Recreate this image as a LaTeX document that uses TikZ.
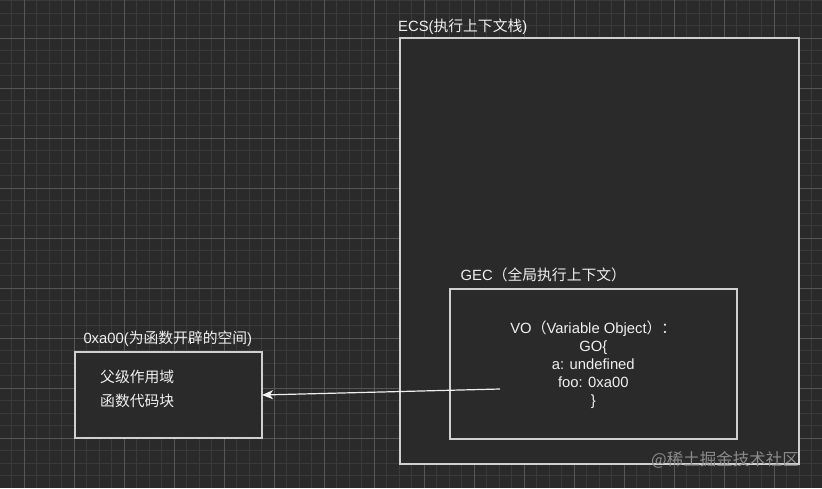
\documentclass[tikz,border=0pt]{standalone}
\usepackage{fontspec}
\setmainfont{Liberation Sans}
\newfontfamily\cjk{Noto Sans CJK SC}
\usetikzlibrary{arrows.meta}
\definecolor{bg}{HTML}{2A2A2A}
\definecolor{gminor}{HTML}{3A3A3A}
\definecolor{gmajor}{HTML}{565656}
\definecolor{fg}{HTML}{F0F0F0}
\definecolor{edgec}{HTML}{D0D0D0}
\definecolor{wmc}{HTML}{8A8A8A}
\begin{document}
\begin{tikzpicture}[x=1pt,y=-1pt,
  box/.style={draw=edgec, fill=bg, line width=1.3pt, inner sep=0pt, outer sep=0pt, anchor=north west},
  lbl/.style={text=fg, inner sep=0pt, font=\fontsize{14.8}{18}\selectfont},
  arr/.style={draw=fg, line width=1.2pt, -{Stealth[length=11pt,width=9pt,inset=3pt]}},
  minorline/.style={draw=gminor, line width=0.8pt},
  majorline/.style={draw=gmajor, line width=1pt}]
\useasboundingbox (0,0) rectangle (822,488);
\fill[bg] (0,0) rectangle (822,488);
% grid
\foreach \i in {0,...,64} \draw[minorline] ({11.5+12.5*\i},0) -- ({11.5+12.5*\i},488);
\foreach \i in {0,...,38} \draw[minorline] (0,{0.5+12.5*\i}) -- (822,{0.5+12.5*\i});
\foreach \i in {0,...,15} \draw[majorline] ({24+50*\i},0) -- ({24+50*\i},488);
\foreach \i in {0,...,8} \draw[majorline] (0,{38+50*\i}) -- (822,{38+50*\i});
% boxes
\node[box, minimum width=399pt, minimum height=426pt] (ecs) at (400,38) {};
\node[box, minimum width=287pt, minimum height=150pt] (gec) at (450,289) {};
\node[box, minimum width=187pt, minimum height=86pt] (mem) at (75,352) {};
% titles
\node[lbl, anchor=base west] (ecst) at (398,31.7) {ECS({\cjk 执行上下文栈})};
\node[lbl, anchor=base west] (gect) at (460.5,280.7) {GEC{\cjk （全局执行上下文）}};
\node[lbl, anchor=base west] (memt) at (83.3,343.3) {0xa00({\cjk 为函数开辟的空间})};
% contents
\node[lbl, anchor=west] (scope1) at (100,376.7) {\cjk 父级作用域};
\node[lbl, anchor=west] (code1) at (100,400.7) {\cjk 函数代码块};
\node[lbl, align=center, anchor=north] (vo) at (593.3,319.3) {\rule{0pt}{14pt}VO{\cjk （}Variable Object{\cjk ）：}\\ GO\{\\ a: undefined\\ foo: 0xa00\\ \}};
% arrow
\coordinate (src) at (500,389);
\draw[arr] (src) -- (mem.east);
% watermark
\node[text=wmc, inner sep=0pt, anchor=west, font=\cjk\fontsize{16.5}{18}\selectfont] (wm) at (651,460) {@稀土掘金技术社区};
\end{tikzpicture}
\end{document}
